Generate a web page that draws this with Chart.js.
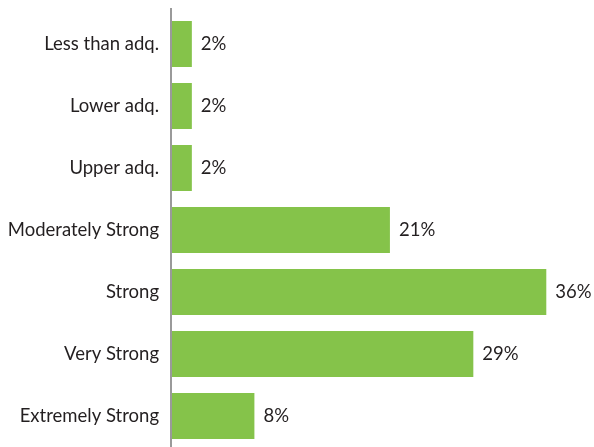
<!DOCTYPE html>
<html>
<head>
<meta charset="utf-8">
<script src="https://cdn.jsdelivr.net/npm/chart.js@4"></script>
<style>
  html, body { margin: 0; padding: 0; background: #fff; }
  #wrap { width: 594px; height: 447px; position: relative; }
</style>
</head>
<body>
<div id="wrap"><canvas id="chartStrength"></canvas></div>
<script>
const categories = [
  'Less than adq.',
  'Lower adq.',
  'Upper adq.',
  'Moderately Strong',
  'Strong',
  'Very Strong',
  'Extremely Strong',
];
const percentValues = [2, 2, 2, 21, 36, 29, 8];

const barColor = '#85c34a';
const textColor = '#231f20';
const fontFamily = 'Lato, "Open Sans", sans-serif';

// value labels to the right of each bar
const valueLabels = {
  id: 'valueLabels',
  afterDatasetsDraw(chart) {
    const ctx = chart.ctx;
    const meta = chart.getDatasetMeta(0);
    ctx.save();
    ctx.font = `18.5px ${fontFamily}`;
    ctx.fillStyle = textColor;
    ctx.textAlign = 'left';
    ctx.textBaseline = 'middle';
    meta.data.forEach((bar, i) => {
      ctx.fillText(`${percentValues[i]}%`, bar.x + 9, bar.y);
    });
    ctx.restore();
  },
};

// grey vertical axis line, a bit taller than the plot area
const axisLine = {
  id: 'axisLine',
  afterDraw(chart) {
    const { ctx, chartArea } = chart;
    ctx.save();
    ctx.strokeStyle = '#9a9a9a';
    ctx.lineWidth = 2;
    ctx.beginPath();
    ctx.moveTo(chartArea.left, chartArea.top - 5);
    ctx.lineTo(chartArea.left, chart.height);
    ctx.stroke();
    ctx.restore();
  },
};

new Chart(document.querySelector('#chartStrength'), {
  type: 'bar',
  data: {
    labels: categories,
    datasets: [
      {
        data: percentValues,
        backgroundColor: barColor,
        borderWidth: 0,
        barPercentage: 0.74,
        categoryPercentage: 1,
      },
    ],
  },
  options: {
    indexAxis: 'y',
    responsive: true,
    maintainAspectRatio: false,
    animation: false,
    layout: {
      padding: { top: 13, right: 6, bottom: 0, left: 0 },
    },
    plugins: {
      legend: { display: false },
      tooltip: { enabled: false },
    },
    scales: {
      x: {
        display: false,
        min: 0,
        max: 40,
      },
      y: {
        grid: { display: false, drawTicks: false },
        border: { display: false },
        afterFit: (scale) => {
          scale.width = 171;
          scale.paddingTop = 0;
          scale.paddingBottom = 0;
        },
        ticks: {
          padding: 12,
          color: textColor,
          font: { family: fontFamily, size: 18.5 },
        },
      },
    },
  },
  plugins: [valueLabels, axisLine],
});
</script>
</body>
</html>
